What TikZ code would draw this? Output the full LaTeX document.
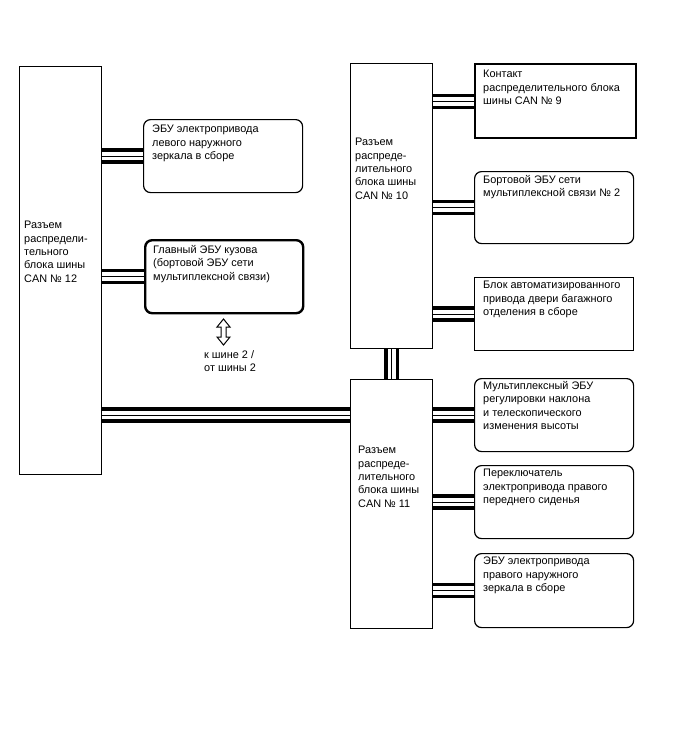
\documentclass[tikz,border=0pt]{standalone}
\usepackage{fontspec}
\setmainfont{Liberation Sans}
\usetikzlibrary{calc}
\newcommand\buslink[3]{%
  \draw[busthick] ($(#1.east |- #3.west)+(0,-6)$) -- ($(#2.west |- #3.west)+(0,-6)$);
  \draw[busthin]  ($(#1.east |- #3.west)$) -- ($(#2.west |- #3.west)$);
  \draw[busthick] ($(#1.east |- #3.west)+(0,6)$) -- ($(#2.west |- #3.west)+(0,6)$);
}
\begin{document}
\begin{tikzpicture}[x=1pt,y=-1pt,
  txt/.style={anchor=north west, align=left, inner sep=0pt, font=\fontsize{10.9}{13.4}\selectfont},
  blk/.style={draw, line width=1.2pt, anchor=north west, inner sep=0pt},
  rbox/.style={blk, rounded corners=7pt},
  thickbox/.style={line width=2.4pt},
  busthick/.style={line width=3.3pt},
  busthin/.style={line width=1pt}
]
\useasboundingbox (0,0) rectangle (688,755);

% connector blocks
\node[blk, minimum width=82, minimum height=408] (can12) at (19,66) {};
\node[blk, minimum width=82, minimum height=285] (can10) at (350,63) {};
\node[blk, minimum width=82, minimum height=249] (can11) at (350,379) {};

% left devices
\node[rbox, minimum width=159, minimum height=73] (mirL) at (143,119) {};
\node[rbox, thickbox, minimum width=158, minimum height=73] (body) at (144,239) {};

% CAN10 devices
\node[blk, thickbox, minimum width=161, minimum height=74] (c9) at (474,63) {};
\node[rbox, minimum width=159, minimum height=72] (mpx2) at (474,171) {};
\node[blk, minimum width=159, minimum height=73] (door) at (474,277) {};

% CAN11 devices
\node[rbox, minimum width=159, minimum height=73] (tilt) at (474,378) {};
\node[rbox, minimum width=159, minimum height=73] (seat) at (474,465) {};
\node[rbox, minimum width=159, minimum height=74] (mirR) at (474,553) {};

% texts
\node[txt] (t12) at (24,221) {Разъем\\распредели-\\тельного\\блока шины\\CAN № 12};
\node[txt] (t10) at (355,138) {Разъем\\распреде-\\лительного\\блока шины\\CAN № 10};
\node[txt] (t11) at (358,446) {Разъем\\распреде-\\лительного\\блока шины\\CAN № 11};

\node[txt] (tmirL) at ([xshift=9pt,yshift=-6pt]mirL.north west) {ЭБУ электропривода\\левого наружного\\зеркала в сборе};
\node[txt] (tbody) at ([xshift=9pt,yshift=-6pt]body.north west) {Главный ЭБУ кузова\\(бортовой ЭБУ сети\\мультиплексной связи)};
\node[txt] (tc9) at ([xshift=9pt,yshift=-7pt]c9.north west) {Контакт\\распределительного блока\\шины CAN № 9};
\node[txt] (tmpx2) at ([xshift=9pt,yshift=-4pt]mpx2.north west) {Бортовой ЭБУ сети\\мультиплексной связи № 2};
\node[txt] (tdoor) at ([xshift=9pt,yshift=-4pt]door.north west) {Блок автоматизированного\\привода двери багажного\\отделения в сборе};
\node[txt] (ttilt) at ([xshift=9pt,yshift=-3pt]tilt.north west) {Мультиплексный ЭБУ\\регулировки наклона\\и телескопического\\изменения высоты};
\node[txt] (tseat) at ([xshift=9pt,yshift=-4pt]seat.north west) {Переключатель\\электропривода правого\\переднего сиденья};
\node[txt] (tmirR) at ([xshift=9pt,yshift=-4pt]mirR.north west) {ЭБУ электропривода\\правого наружного\\зеркала в сборе};

\node[txt] (tbus2) at (204,350) {к шине 2 /\\от шины 2};

% open double arrow
\draw[line width=1pt, line join=miter]
  (223.5,319) -- (230,327) -- (226,327) -- (226,337) -- (230,337) -- (223.5,345)
  -- (217,337) -- (221,337) -- (221,327) -- (217,327) -- cycle;

% buses
\buslink{can12}{mirL}{mirL}
\buslink{can12}{body}{body}
\buslink{can12}{can11}{tilt}
\buslink{can10}{c9}{c9}
\buslink{can10}{mpx2}{mpx2}
\buslink{can10}{door}{door}
\buslink{can11}{tilt}{tilt}
\buslink{can11}{seat}{seat}
\buslink{can11}{mirR}{mirR}

\draw[busthick] ($(can10.south)+(-5.7,0)$) -- ($(can11.north)+(-5.7,0)$);
\draw[busthin]  (can10.south) -- (can11.north);
\draw[busthick] ($(can10.south)+(5.7,0)$) -- ($(can11.north)+(5.7,0)$);
\end{tikzpicture}
\end{document}
